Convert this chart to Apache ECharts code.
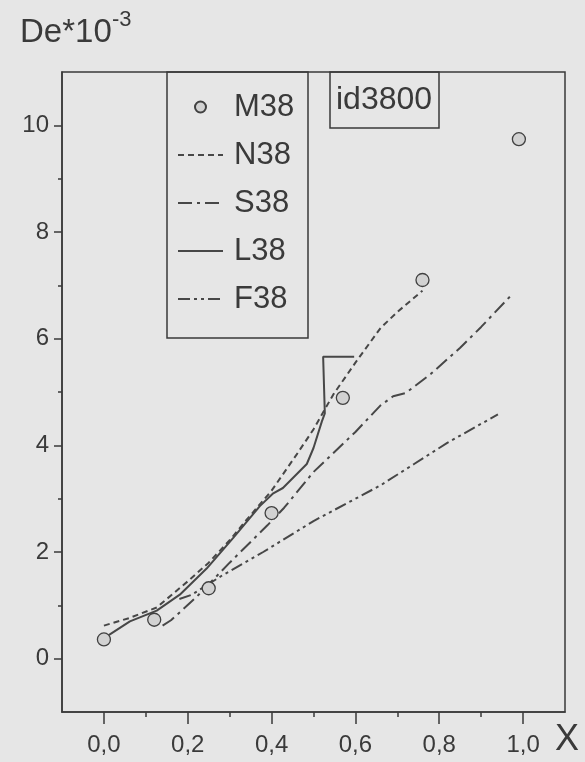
<!DOCTYPE html>
<html>
<head>
<meta charset="utf-8">
<script src="https://cdn.jsdelivr.net/npm/echarts@6/dist/echarts.min.js"></script>
<style>
	html, body { margin: 0; padding: 0; background: #e6e6e6; }
	#chart { width: 585px; height: 762px; }
</style>
</head>
<body>
<div id="chart"></div>
<script>
const mX = [0.0, 0.12, 0.25, 0.40, 0.57, 0.76, 0.99]
const mY = [0.36, 0.73, 1.32, 2.73, 4.89, 7.1, 9.74]

const nX = [0.0, 0.06, 0.126, 0.2, 0.25, 0.3, 0.34, 0.4, 0.46, 0.5, 0.547, 0.6, 0.66, 0.7, 0.76]
const nY = [0.62, 0.76, 0.96, 1.45, 1.8, 2.22, 2.6, 3.15, 3.83, 4.3, 4.95, 5.55, 6.2, 6.5, 6.9]

const sX = [0.14, 0.16, 0.22, 0.30, 0.39, 0.43, 0.50, 0.60, 0.66, 0.69, 0.72, 0.78, 0.85, 0.90, 0.97]
const sY = [0.62, 0.72, 1.15, 1.8, 2.5, 2.83, 3.5, 4.25, 4.75, 4.92, 4.98, 5.34, 5.83, 6.22, 6.8]

const lX = [0.005, 0.062, 0.126, 0.181, 0.245, 0.308, 0.372, 0.404, 0.427, 0.484, 0.5, 0.52, 0.527, 0.523, 0.523, 0.597]
const lY = [0.41, 0.70, 0.90, 1.20, 1.69, 2.26, 2.86, 3.1, 3.2, 3.65, 3.95, 4.45, 4.6, 4.6, 5.66, 5.66]

const fX = [0.18, 0.21, 0.28, 0.38, 0.50, 0.66, 0.74, 0.82, 0.94]
const fY = [1.12, 1.2, 1.55, 2.0, 2.58, 3.25, 3.65, 4.05, 4.58]

const xMajor = [0, 0.2, 0.4, 0.6, 0.8, 1.0]
const xMinor = [0.1, 0.3, 0.5, 0.7, 0.9]
const yMajor = [0, 2, 4, 6, 8, 10]
const yMinor = [1, 3, 5, 7, 9]

const ink = '#3a3a3a'
const font = "'Liberation Sans', Arial, sans-serif"

const pairs = (xs, ys) => xs.map((x, i) => [x, ys[i]])

const lineSeries = (name, xs, ys, type) => ({
	name: name,
	type: 'line',
	data: pairs(xs, ys),
	symbol: 'none',
	smooth: false,
	color: '#474747',
	lineStyle: { width: 2, type: type, color: '#474747' },
	z: 2,
})

const chart = echarts.init(document.getElementById('chart'))

const xAxisBase = {
	type: 'value',
	min: -0.1,
	max: 1.1,
	position: 'bottom',
	splitLine: { show: false },
}
const yAxisBase = {
	type: 'value',
	min: -1,
	max: 11,
	position: 'left',
	splitLine: { show: false },
}

chart.setOption({
	backgroundColor: '#e6e6e6',
	animation: false,
	textStyle: { fontFamily: font },
	grid: {
		left: 62,
		right: 20,
		top: 72,
		bottom: 50,
		show: true,
		borderColor: ink,
		borderWidth: 1.5,
	},
	xAxis: [
		{
			...xAxisBase,
			axisLine: { show: true, onZero: false, lineStyle: { color: ink, width: 1.5 } },
			axisTick: {
				show: true,
				inside: false,
				length: 12,
				customValues: xMajor,
				lineStyle: { color: ink, width: 1.5 },
			},
			axisLabel: {
				customValues: xMajor,
				margin: 21,
				fontSize: 24,
				color: ink,
				fontFamily: font,
				formatter: (v) => v.toFixed(1).replace('.', ','),
			},
		},
		{
			...xAxisBase,
			axisLine: { show: false, onZero: false },
			axisTick: {
				show: true,
				length: 5,
				customValues: xMinor,
				lineStyle: { color: ink, width: 1.5 },
			},
			axisLabel: { show: false },
		},
	],
	yAxis: [
		{
			...yAxisBase,
			axisLine: { show: true, onZero: false, lineStyle: { color: ink, width: 1.5 } },
			axisTick: {
				show: true,
				length: 8,
				customValues: yMajor,
				lineStyle: { color: ink, width: 1.5 },
			},
			axisLabel: {
				customValues: yMajor,
				margin: 13,
				fontSize: 24,
				color: ink,
				fontFamily: font,
			},
		},
		{
			...yAxisBase,
			axisLine: { show: false, onZero: false },
			axisTick: {
				show: true,
				length: 4,
				customValues: yMinor,
				lineStyle: { color: ink, width: 1.5 },
			},
			axisLabel: { show: false },
		},
	],
	legend: {
		orient: 'vertical',
		left: 177,
		top: 91,
		padding: 0,
		itemWidth: 45,
		itemHeight: 11,
		itemGap: 16,
		textStyle: {
			fontSize: 31,
			lineHeight: 32,
			color: ink,
			fontFamily: font,
			padding: [0, 0, 0, 6],
		},
		data: [
			'M38',
			{ name: 'N38', itemStyle: { opacity: 0 } },
			{ name: 'S38', itemStyle: { opacity: 0 } },
			{ name: 'L38', itemStyle: { opacity: 0 } },
			{ name: 'F38', itemStyle: { opacity: 0 } },
		],
	},
	series: [
		lineSeries('N38', nX, nY, [6, 4]),
		lineSeries('S38', sX, sY, [14, 5, 3, 5]),
		lineSeries('L38', lX, lY, 'solid'),
		lineSeries('F38', fX, fY, [12, 4, 3, 4, 3, 4]),
		{
			name: 'M38',
			type: 'scatter',
			data: pairs(mX, mY),
			symbol: 'circle',
			symbolSize: 13,
			itemStyle: { color: '#d2d2d2', borderColor: '#404040', borderWidth: 1.3, opacity: 1 },
			z: 5,
		},
	],
	graphic: [
		{
			type: 'rect',
			shape: { x: 167, y: 72, width: 141, height: 266 },
			style: { fill: 'none', stroke: ink, lineWidth: 1.5 },
			z: 10,
		},
		{
			type: 'rect',
			shape: { x: 330, y: 72, width: 109, height: 56 },
			style: { fill: 'none', stroke: ink, lineWidth: 1.5 },
			z: 10,
		},
		{
			type: 'text',
			style: { text: 'id3800', x: 336, y: 100, fill: ink, font: '32px ' + font, verticalAlign: 'middle' },
			z: 10,
		},
		{
			type: 'text',
			style: { text: 'De*10', x: 20, y: 33, fill: ink, font: '33px ' + font, verticalAlign: 'middle' },
			z: 10,
		},
		{
			type: 'text',
			style: { text: '-3', x: 112, y: 20, fill: ink, font: '22px ' + font, verticalAlign: 'middle' },
			z: 10,
		},
		{
			type: 'text',
			style: { text: 'X', x: 567, y: 740, fill: ink, font: '36px ' + font, align: 'center', verticalAlign: 'middle' },
			z: 10,
		},
	],
})
</script>
</body>
</html>
